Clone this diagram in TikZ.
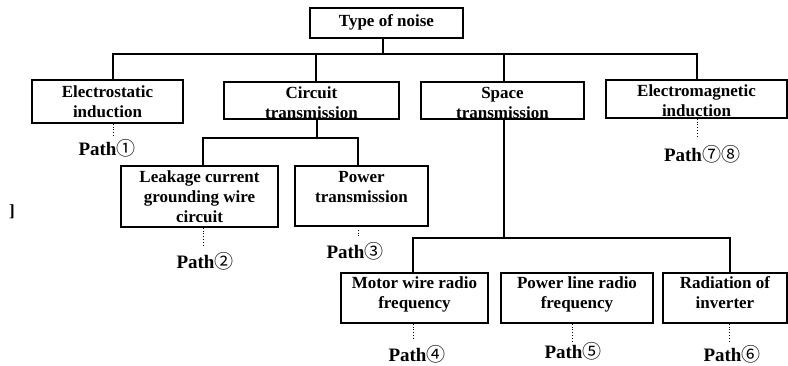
\documentclass[tikz,border=0pt]{standalone}
\usepackage{fontspec}
\setmainfont{Liberation Serif}
\newfontfamily\cdig{Noto Sans CJK JP}
\newcommand{\cnum}[1]{{\mdseries\cdig #1}}
\begin{document}
\begin{tikzpicture}[x=1pt,y=-1pt,
  box/.style={draw, line width=1.5pt, inner sep=0pt},
  txt/.style={font=\fontsize{17}{20}\selectfont\bfseries, align=center, inner sep=0pt},
  pth/.style={font=\fontsize{19}{22}\selectfont\bfseries, inner sep=0pt},
  conn/.style={line width=1.5pt},
  dot/.style={line width=0.8pt, dotted}]
\useasboundingbox (0,0) rectangle (788,366);
% boxes
\node[box, minimum width=153pt, minimum height=30pt] (top) at (386.5,23) {};
\node[txt] (topt) at (386.5,22) {Type of noise};
\node[box, minimum width=151pt, minimum height=43pt] (es) at (107.5,101.5) {};
\node[txt] (est) at (107.5,102) {Electrostatic\\induction};
\node[box, minimum width=175pt, minimum height=37pt] (ct) at (311.5,100.5) {};
\node[txt] (ctt) at (311.5,103) {Circuit\\transmission};
\node[box, minimum width=163pt, minimum height=37pt] (st) at (502.5,100.5) {};
\node[txt] (stt) at (502.5,103) {Space\\transmission};
\node[box, minimum width=181pt, minimum height=38pt] (em) at (696.5,99) {};
\node[txt] (emt) at (696.5,101) {Electromagnetic\\induction};
\node[box, minimum width=157pt, minimum height=61pt] (lk) at (199.5,196.5) {};
\node[txt] (lkt) at (199.5,197) {Leakage current\\grounding wire\\circuit};
\node[box, minimum width=133pt, minimum height=60pt] (pt) at (361.5,196) {};
\node[txt] (ptt) at (361.5,187) {Power\\transmission};
\node[box, minimum width=147pt, minimum height=50pt] (mw) at (414.5,298) {};
\node[txt] (mwt) at (414.5,294.5) {Motor wire radio\\frequency};
\node[box, minimum width=152pt, minimum height=50pt] (pl) at (577,298) {};
\node[txt] (plt) at (577,294.5) {Power line radio\\frequency};
\node[box, minimum width=124pt, minimum height=50pt] (rd) at (725,298) {};
\node[txt] (rdt) at (725,292.7) {Radiation of\\inverter};
% stray bracket
\node[txt] (br) at (12,212) {]};
% junctions
\coordinate (j0) at (383,54);
\coordinate (j1) at (317,138);
\coordinate (j2) at (504,238);
% top tree
\draw[conn] (top.south -| j0) -- (j0);
\draw[conn] (es.north -| 113,0) |- (697,54) -- (em.north -| 697,0);
\draw[conn] (316,54) -- (ct.north -| 316,0);
\draw[conn] (504,54) -- (st.north -| 504,0);
% circuit subtree
\draw[conn] (ct.south -| j1) -- (j1);
\draw[conn] (lk.north -| 203,0) |- (358,138) -- (pt.north -| 358,0);
% space subtree
\draw[conn] (st.south -| j2) -- (j2);
\draw[conn] (mw.north -| 413,0) |- (730,238) -- (rd.north -| 730,0);
% path labels
\node[pth] (p1) at (107,148) {Path\cnum{①}};
\node[pth] (p78) at (702,154) {Path\cnum{⑦⑧}};
\node[pth] (p2) at (205,261) {Path\cnum{②}};
\node[pth] (p3) at (355,251) {Path\cnum{③}};
\node[pth] (p4) at (417,354) {Path\cnum{④}};
\node[pth] (p5) at (573,351) {Path\cnum{⑤}};
\node[pth] (p6) at (732,354) {Path\cnum{⑥}};
% dotted leaders
\coordinate (d1) at (113,137);
\coordinate (d78) at (697,138);
\coordinate (d2) at (203,245);
\coordinate (d3) at (358,237);
\coordinate (d4) at (413,340);
\coordinate (d5) at (572,342);
\coordinate (d6) at (729,342);
\draw[dot] (es.south -| d1) -- (d1);
\draw[dot] (em.south -| d78) -- (d78);
\draw[dot] (lk.south -| d2) -- (d2);
\draw[dot] ([yshift=-3pt]pt.south -| d3) -- (d3);
\draw[dot] (mw.south -| d4) -- (d4);
\draw[dot] (pl.south -| d5) -- (d5);
\draw[dot] (rd.south -| d6) -- (d6);
\end{tikzpicture}
\end{document}
